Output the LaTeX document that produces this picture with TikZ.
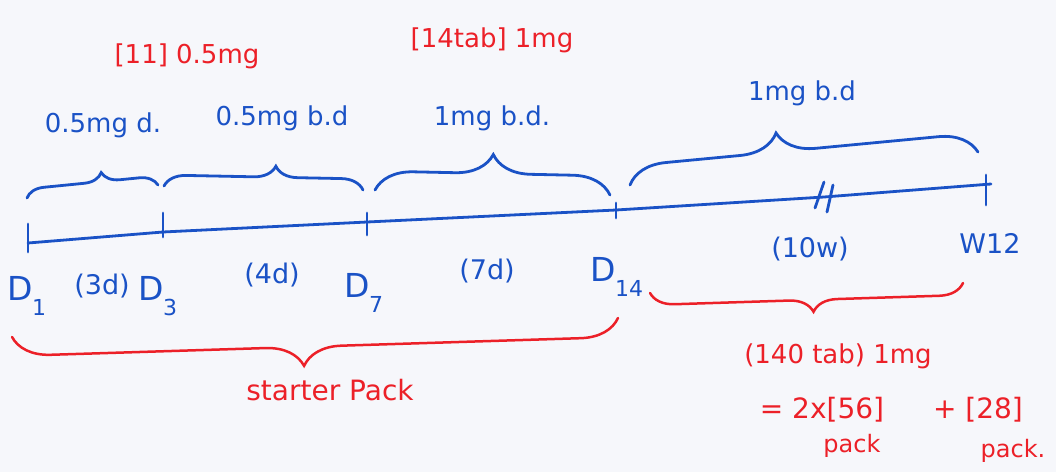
\documentclass[tikz,border=0pt]{standalone}
\usepackage{fontspec}
\setmainfont{DejaVu Sans}
\usetikzlibrary{decorations.pathreplacing}
\definecolor{bluepen}{RGB}{26,82,198}
\definecolor{redpen}{RGB}{236,32,40}
\definecolor{paper}{RGB}{246,247,251}
\newcommand\lowsub[1]{\kern-1pt\raisebox{-0.45em}{\fontsize{22}{22}\selectfont #1}}
\begin{document}
\begin{tikzpicture}[x=1pt,y=-1pt,
  bluetext/.style={text=bluepen,font=\fontsize{26}{28}\selectfont,inner sep=0pt},
  redtext/.style={text=redpen,font=\fontsize{26}{28}\selectfont,inner sep=0pt},
  daytext/.style={text=bluepen,font=\fontsize{33}{35}\selectfont,inner sep=0pt},
  spantext/.style={text=bluepen,font=\fontsize{27}{29}\selectfont,inner sep=0pt},
  packtext/.style={text=redpen,font=\fontsize{24}{26}\selectfont,inner sep=0pt},
  timeline/.style={draw=bluepen,line width=2.8pt,line cap=round,line join=round},
  tickmark/.style={draw=bluepen,line width=2.8pt,line cap=round},
  bluebrace/.style={draw=bluepen,line width=2.8pt,line cap=round,decorate,decoration={brace}},
  redbrace/.style={draw=redpen,line width=2.5pt,line cap=round,decorate,decoration={brace}}
]
\fill[paper] (0,0) rectangle (1056,472);
\useasboundingbox (0,0) rectangle (1056,472);

% timeline points
\coordinate (t1) at (28,243);
\coordinate (t3) at (163,232);
\coordinate (t7) at (367,222);
\coordinate (t14) at (616,210);
\coordinate (brk) at (824,197);
\coordinate (w12) at (986,184);
\coordinate (lineend) at (991,184);

\draw[timeline] (t1) -- (t3) -- (t7) -- (t14) -- (brk) -- (lineend);

% ticks
\draw[tickmark] ([yshift=19pt]t1) -- ([yshift=-9pt]t1);
\draw[tickmark] ([yshift=19pt]t3) -- ([yshift=-5pt]t3);
\draw[tickmark] ([yshift=9pt]t7) -- ([yshift=-13pt]t7);
\draw[tickmark] ([yshift=7pt]t14) -- ([yshift=-8pt]t14);
\draw[tickmark] ([yshift=9pt]w12) -- ([yshift=-21pt]w12);
% break mark
\draw[tickmark] ([shift={(-9pt,-11pt)}]brk) -- ([shift={(0pt,15pt)}]brk);
\draw[tickmark] ([shift={(3pt,-15pt)}]brk) -- ([shift={(9pt,12pt)}]brk);

% braces above
\coordinate (b1s) at (27,198);  \coordinate (b1e) at (158,185);
\coordinate (b2s) at (164,186); \coordinate (b2e) at (363,190);
\coordinate (b3s) at (375,190); \coordinate (b3e) at (610,195);
\coordinate (b4s) at (630,185); \coordinate (b4e) at (978,152);
\draw[bluebrace,decoration={amplitude=18pt,aspect=0.58}] (b1s) -- (b1e);
\draw[bluebrace,decoration={amplitude=22pt,aspect=0.56}] (b2s) -- (b2e);
\draw[bluebrace,decoration={amplitude=38pt,aspect=0.5}] (b3s) -- (b3e);
\draw[bluebrace,decoration={amplitude=38pt,aspect=0.43}] (b4s) -- (b4e);

% braces below
\coordinate (r1s) at (618,318); \coordinate (r1e) at (12,337);
\coordinate (r2s) at (963,283); \coordinate (r2e) at (650,293);
\draw[redbrace,decoration={amplitude=38pt,aspect=0.52}] (r1s) -- (r1e);
\draw[redbrace,decoration={amplitude=24pt,aspect=0.48}] (r2s) -- (r2e);

% red labels top
\node[redtext] (dose11) at (187,56) {[11] 0.5mg};
\node[redtext] (tab14) at (492,40) {[14tab] 1mg};

% blue dose labels
\node[bluetext] (lab1) at (103,125) {0.5mg d.};
\node[bluetext] (lab2) at (282,118) {0.5mg b.d};
\node[bluetext] (lab3) at (492,118) {1mg b.d.};
\node[bluetext] (lab4) at (802,93) {1mg b.d};

% day labels
\node[daytext] (d1) at (27,296) {D\lowsub{1}};
\node[spantext] (p3) at (102,286) {(3d)};
\node[daytext] (d3) at (158,296) {D\lowsub{3}};
\node[spantext] (p4) at (272,275) {(4d)};
\node[daytext] (d7) at (364,293) {D\lowsub{7}};
\node[spantext] (p7) at (487,271) {(7d)};
\node[daytext] (d14) at (617,277) {D\lowsub{14}};
\node[spantext] (p10) at (810,249) {(10w)};
\node[spantext] (wk12) at (990,243) {W12};

% red labels bottom
\node[redtext,font=\fontsize{28}{30}\selectfont] (starter) at (330,390) {starter Pack};
\node[redtext] (tab140) at (838,356) {(140 tab) 1mg};
\node[redtext,font=\fontsize{28}{30}\selectfont] (eqa) at (822,410) {= 2x[56]};
\node[redtext,font=\fontsize{28}{30}\selectfont] (eqb) at (978,410) {+ [28]};
\node[packtext] (packa) at (852,446) {pack};
\node[packtext] (packb) at (1013,451) {pack.};
\end{tikzpicture}
\end{document}
